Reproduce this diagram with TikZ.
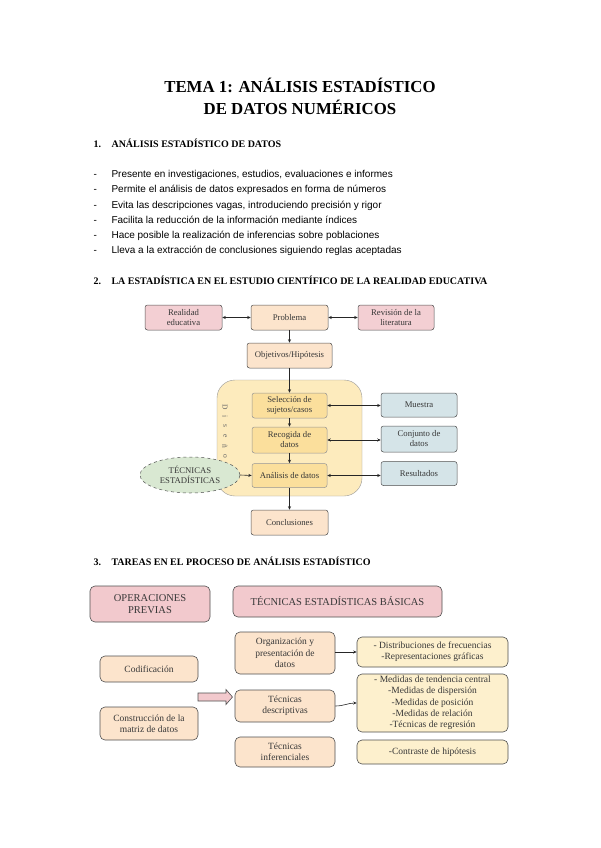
\documentclass[tikz,border=0pt]{standalone}
\usepackage{fontspec}
\setmainfont{Liberation Serif}
\newfontfamily\arialf{Liberation Sans}
\usetikzlibrary{shapes.geometric,arrows.meta}
\definecolor{pinkb}{HTML}{F3CFD3}
\definecolor{peach}{HTML}{FCE4CC}
\definecolor{yelbig}{HTML}{FDEBBD}
\definecolor{yelin}{HTML}{FBDF9C}
\definecolor{bluegr}{HTML}{D5E4E8}
\definecolor{greenel}{HTML}{D9E8D2}
\definecolor{yelli}{HTML}{FDF0CD}
\definecolor{pink3}{HTML}{F2C9CD}
\definecolor{edgec}{HTML}{505050}
\definecolor{txtc}{HTML}{383838}
\tikzset{
  tip/.style={-{Stealth[length=3.5pt,width=3pt]}},
  bitip/.style={{Stealth[length=3.5pt,width=3pt]}-{Stealth[length=3.5pt,width=3pt]}},
  conn/.style={draw=black!85, line width=0.6pt},
  boxtwo/.style={draw=edgec, line width=0.5pt, rounded corners=2.5pt, align=center,
     font=\fontsize{8.7}{10}\selectfont, text=txtc, inner sep=1pt},
  boxthree/.style={draw=edgec, line width=0.6pt, rounded corners=5pt, align=center,
     font=\fontsize{9.5}{11.3}\selectfont, text=txtc, inner sep=1pt},
  bullet/.style={anchor=base west, font=\arialf\fontsize{10}{12}\selectfont},
  head/.style={anchor=base west, font=\bfseries\fontsize{10}{12}\selectfont},
  titlef/.style={anchor=base, font=\bfseries\fontsize{16.8}{21}\selectfont}
}
\begin{document}
\begin{tikzpicture}[x=1pt,y=-1pt]
\useasboundingbox (0,0) rectangle (600,848);
\fill[white] (0,0) rectangle (600,848);

% Title
\node[titlef] (t1) at (300,93) {TEMA 1: ANÁLISIS ESTADÍSTICO};
\node[titlef] (t2) at (300,115) {DE DATOS NUMÉRICOS};

% Section 1
\node[head] (n1) at (90,147) {1.};
\node[head] (h1) at (108,147) {ANÁLISIS ESTADÍSTICO DE DATOS};
\foreach \yy/\tt [count=\i] in {177/{Presente en investigaciones, estudios, evaluaciones e informes},
  192/{Permite el análisis de datos expresados en forma de números},
  208/{Evita las descripciones vagas, introduciendo precisión y rigor},
  223/{Facilita la reducción de la información mediante índices},
  238/{Hace posible la realización de inferencias sobre poblaciones},
  253/{Lleva a la extracción de conclusiones siguiendo reglas aceptadas}}{
  \node[bullet] (d\i) at (90,\yy) {-};
  \node[bullet] (b\i) at (108,\yy) {\tt};
}

% Section 2
\node[head] (n2) at (90,284) {2.};
\node[head] (h2) at (108,284) {LA ESTADÍSTICA EN EL ESTUDIO CIENTÍFICO DE LA REALIDAD EDUCATIVA};

\node[draw=black!40, fill=yelbig, rounded corners=18pt, minimum width=145pt, minimum height=116pt] (big) at (289.5,438) {};

\node[boxtwo, fill=pinkb, minimum width=77pt, minimum height=25pt] (real) at (183.5,317.5) {Realidad\\educativa};
\node[boxtwo, fill=peach, minimum width=77pt, minimum height=25pt] (prob) at (289.5,317.5) {Problema};
\node[boxtwo, fill=pinkb, minimum width=76pt, minimum height=25pt] (rev) at (396,317.5) {Revisión de la\\literatura};
\node[boxtwo, fill=peach, minimum width=85pt, minimum height=25pt] (obj) at (289.5,355.5) {Objetivos/Hipótesis};
\node[boxtwo, draw=edgec!60, fill=yelin, minimum width=75pt, minimum height=25pt] (sel) at (289.5,405.5) {Selección de\\sujetos/casos};
\node[boxtwo, draw=edgec!60, fill=yelin, minimum width=75pt, minimum height=26pt] (rec) at (289.5,440) {Recogida de\\datos};
\node[boxtwo, draw=edgec!60, fill=yelin, minimum width=75pt, minimum height=24pt] (ana) at (289.5,475.5) {Análisis de datos};
\node[boxtwo, fill=bluegr, minimum width=76pt, minimum height=24pt] (mue) at (419,405) {Muestra};
\node[boxtwo, fill=bluegr, minimum width=76pt, minimum height=26pt] (conj) at (419,439) {Conjunto de\\datos};
\node[boxtwo, fill=bluegr, minimum width=76pt, minimum height=24pt] (res) at (419,473.5) {Resultados};
\node[ellipse, draw=edgec, dashed, line width=0.5pt, fill=greenel, minimum width=100pt, minimum height=36pt, inner sep=0pt,
  align=center, font=\fontsize{8.7}{10}\selectfont, text=txtc] (tec) at (190,475) {TÉCNICAS\\ESTADÍSTICAS};
\node[boxtwo, fill=peach, minimum width=77pt, minimum height=25pt] (concl) at (289.5,522.5) {Conclusiones};

\foreach \l/\yy [count=\i] in {D/407,i/416.5,s/426,e/436,ñ/446,o/456}{
  \node[rotate=-90, font=\fontsize{7.5}{8}\selectfont, text=black!60, inner sep=0pt] (dis\i) at (225,\yy) {\l};
}

\draw[conn, bitip] (real) -- (prob);
\draw[conn, bitip] (prob) -- (rev);
\draw[conn, tip] (prob) -- (obj);
\draw[conn, tip] (obj) -- (sel);
\draw[conn, tip] (sel) -- (rec);
\draw[conn, tip] (rec) -- (ana);
\draw[conn, bitip] (sel.east) -- (mue.west |- sel.east);
\draw[conn, bitip] (rec.east) -- (conj.west |- rec.east);
\draw[conn, bitip] (ana.east) -- (res.west |- ana.east);
\draw[conn, tip] (tec.east) -- (ana.west);
\draw[conn, tip] (ana) -- (concl);

% Section 3
\node[head] (n3) at (90,565) {3.};
\node[head] (h3) at (108,565) {TAREAS EN EL PROCESO DE ANÁLISIS ESTADÍSTICO};

\node[boxthree, fill=pink3, minimum width=120pt, minimum height=36pt, font=\fontsize{10.5}{12}\selectfont] (opp) at (150,604) {OPERACIONES\\PREVIAS};
\node[boxthree, fill=pink3, minimum width=209pt, minimum height=31pt, font=\fontsize{10.5}{12}\selectfont] (teb) at (337.5,601.5) {TÉCNICAS ESTADÍSTICAS BÁSICAS};
\node[boxthree, fill=peach, minimum width=100pt, minimum height=42pt] (org) at (285,653) {Organización y\\presentación de\\datos};
\node[boxthree, fill=yelli, minimum width=151pt, minimum height=30pt] (dist) at (432.5,652) {- Distribuciones de frecuencias\\-Representaciones gráficas};
\node[boxthree, fill=peach, minimum width=98pt, minimum height=26pt] (cod) at (149,669) {Codificación};
\node[boxthree, fill=peach, minimum width=98pt, minimum height=33pt] (cons) at (149,723.5) {Construcción de la\\matriz de datos};
\node[boxthree, fill=peach, minimum width=100pt, minimum height=32pt] (desc) at (285,706) {Técnicas\\descriptivas};
\node[boxthree, fill=yelli, minimum width=151pt, minimum height=58pt] (med) at (432.5,703) {- Medidas de tendencia central\\-Medidas de dispersión\\-Medidas de posición\\-Medidas de relación\\-Técnicas de regresión};
\node[boxthree, fill=peach, minimum width=100pt, minimum height=30pt] (inf) at (285,752) {Técnicas\\inferenciales};
\node[boxthree, fill=yelli, minimum width=151pt, minimum height=24pt] (contr) at (432.5,752) {-Contraste de hipótesis};

\draw[draw=edgec, line width=0.6pt, fill=pink3] (198,693) -- (226,693) -- (226,689.5) -- (232.5,697) -- (226,704.5) -- (226,701) -- (198,701) -- cycle;

\draw[conn, tip] (org.east |- dist.west) -- (dist.west);
\draw[conn, tip] (desc.east) to[out=0, in=180] (med.west);
\end{tikzpicture}
\end{document}
